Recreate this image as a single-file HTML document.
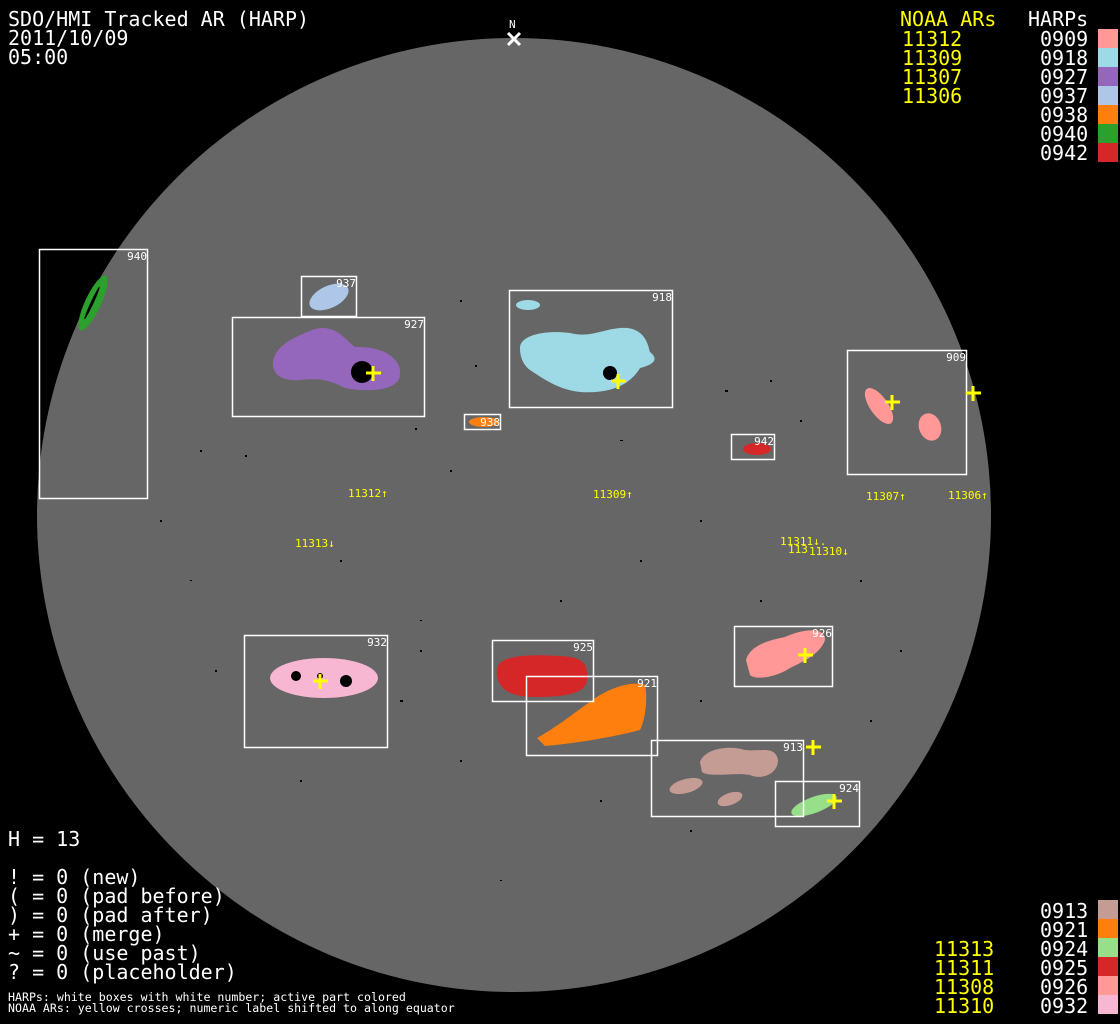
<!DOCTYPE html>
<html><head><meta charset="utf-8"><style>
html,body{margin:0;padding:0;background:#000;}
svg{display:block;}
text{font-family:"DejaVu Sans Mono","Liberation Mono",monospace;}
</style></head><body>
<svg width="1120" height="1024" viewBox="0 0 1120 1024" xmlns="http://www.w3.org/2000/svg">
<rect width="1120" height="1024" fill="#000"/>
<circle cx="514" cy="515" r="477" fill="#666"/>
<g fill="#000">
<rect x="415" y="428" width="2" height="2"/><rect x="190" y="580" width="2" height="1"/><rect x="450" y="470" width="2" height="2"/><rect x="620" y="440" width="3" height="1"/><rect x="700" y="520" width="2" height="2"/><rect x="560" y="600" width="2" height="2"/><rect x="420" y="620" width="2" height="1"/><rect x="215" y="670" width="2" height="2"/><rect x="400" y="700" width="3" height="2"/><rect x="460" y="760" width="2" height="2"/><rect x="600" y="800" width="2" height="2"/><rect x="690" y="830" width="2" height="2"/><rect x="500" y="880" width="2" height="1"/><rect x="300" y="780" width="2" height="2"/><rect x="640" y="560" width="2" height="2"/><rect x="760" y="600" width="2" height="2"/><rect x="860" y="580" width="2" height="2"/><rect x="900" y="650" width="2" height="2"/><rect x="200" y="450" width="2" height="2"/><rect x="160" y="520" width="2" height="2"/><rect x="770" y="380" width="2" height="2"/><rect x="800" y="420" width="2" height="2"/><rect x="725" y="390" width="3" height="2"/><rect x="460" y="300" width="2" height="2"/><rect x="475" y="365" width="2" height="2"/><rect x="245" y="455" width="2" height="2"/><rect x="340" y="560" width="2" height="2"/><rect x="420" y="650" width="2" height="2"/><rect x="700" y="700" width="2" height="2"/><rect x="870" y="720" width="2" height="2"/>
</g>
<!-- blobs -->
<ellipse cx="93" cy="303" rx="8" ry="30" transform="rotate(25 93 303)" fill="#2ca02c"/>
<ellipse cx="92" cy="303" rx="1.5" ry="18" transform="rotate(25 92 303)" fill="#000"/>
<ellipse cx="329" cy="297" rx="21" ry="11" transform="rotate(-25 329 297)" fill="#aec7e8"/>
<path d="M273,365 C272,345 300,335 312,330 C335,322 345,340 355,347 C385,346 402,360 400,375 C398,392 365,392 345,388 C330,380 320,378 300,380 C285,381 274,377 273,365Z" fill="#9467bd"/>
<circle cx="362" cy="372" r="11" fill="#000"/>
<ellipse cx="528" cy="305" rx="12" ry="5" fill="#9edae5"/>
<path d="M520,348 C520,335 545,330 570,333 C590,338 600,330 620,328 C645,326 648,345 650,352 C660,360 652,365 640,368 C630,385 610,394 580,392 C560,390 545,380 530,370 C522,364 520,355 520,348Z" fill="#9edae5"/>
<circle cx="610" cy="373" r="7" fill="#000"/>
<ellipse cx="484" cy="422" rx="15" ry="5" fill="#ff7f0e"/>
<ellipse cx="757" cy="449" rx="14" ry="6" fill="#d62728"/>
<ellipse cx="879" cy="406" rx="9" ry="21" transform="rotate(-35 879 406)" fill="#ff9896"/>
<ellipse cx="930" cy="427" rx="11" ry="14" transform="rotate(-20 930 427)" fill="#ff9896"/>
<ellipse cx="324" cy="678" rx="54" ry="20" fill="#f7b6d2"/>
<g fill="#000"><circle cx="296" cy="676" r="5"/><circle cx="346" cy="681" r="6"/><circle cx="320" cy="676" r="3"/></g>
<path d="M497,668 C500,655 530,654 560,656 C585,657 588,665 587,680 C586,695 560,697 535,697 C505,697 495,685 497,668Z" fill="#d62728"/>
<path d="M537,738 C560,725 575,712 590,702 C605,690 630,680 645,685 C648,700 645,720 640,730 C610,738 570,744 545,746Z" fill="#ff7f0e"/>
<path d="M746,660 C750,645 770,640 785,637 C800,630 825,625 825,640 C820,655 800,663 790,668 C775,678 755,680 750,675Z" fill="#ff9896"/>
<path d="M700,762 C705,748 730,745 745,750 C760,752 775,745 778,760 C778,775 760,780 750,775 C735,772 710,778 702,772Z" fill="#c49c94"/>
<ellipse cx="686" cy="786" rx="17" ry="7" transform="rotate(-15 686 786)" fill="#c49c94"/>
<ellipse cx="730" cy="799" rx="13" ry="6" transform="rotate(-20 730 799)" fill="#c49c94"/>
<ellipse cx="814" cy="805" rx="24" ry="8" transform="rotate(-20 814 805)" fill="#98df8a"/>
<g fill="none" stroke="#fff" stroke-width="1.5">
<rect x="39.5" y="249.5" width="108" height="249"/>
<rect x="301.5" y="276.5" width="55" height="40"/>
<rect x="232.5" y="317.5" width="192" height="99"/>
<rect x="509.5" y="290.5" width="163" height="117"/>
<rect x="464.5" y="414.5" width="36" height="15"/>
<rect x="731.5" y="434.5" width="43" height="25"/>
<rect x="847.5" y="350.5" width="119" height="124"/>
<rect x="244.5" y="635.5" width="143" height="112"/>
<rect x="492.5" y="640.5" width="101" height="61"/>
<rect x="526.5" y="676.5" width="131" height="79"/>
<rect x="734.5" y="626.5" width="98" height="60"/>
<rect x="651.5" y="740.5" width="152" height="76"/>
<rect x="775.5" y="781.5" width="84" height="45"/>
</g>
<g stroke="#ff0" stroke-width="3">
<path d="M366,373h15M373,366v15"/>
<path d="M611,381h15M618,374v15"/>
<path d="M885,402h15M892,395v15"/>
<path d="M966,393h15M973,386v15"/>
<path d="M313,681h15M320,674v15"/>
<path d="M798,655h15M805,648v15"/>
<path d="M806,747h15M813,740v15"/>
<path d="M827,801h15M834,794v15"/>
</g>
<path d="M508,33l12,12M520,33l-12,12" stroke="#fff" stroke-width="3"/>
<text x="509" y="28" font-size="11" fill="#fff">N</text>
<g font-size="11" fill="#fff" text-anchor="end">
<text x="147" y="260">940</text><text x="356" y="287">937</text><text x="424" y="328">927</text>
<text x="672" y="301">918</text><text x="500" y="426">938</text><text x="774" y="445">942</text>
<text x="966" y="361">909</text><text x="387" y="646">932</text><text x="593" y="651">925</text>
<text x="657" y="687">921</text><text x="832" y="637">926</text><text x="803" y="751">913</text>
<text x="859" y="792">924</text>
</g>
<g font-size="11" fill="#ff0">
<text x="348" y="497">11312↑</text><text x="593" y="498">11309↑</text><text x="866" y="500">11307↑</text>
<text x="948" y="499">11306↑</text><text x="295" y="547">11313↓</text><text x="780" y="545">11311↓.</text>
<text x="788" y="553">113</text><text x="809" y="555">11310↓</text>
</g>
<g font-size="20" fill="#fff">
<text x="8" y="26">SDO/HMI Tracked AR (HARP)</text>
<text x="8" y="45">2011/10/09</text>
<text x="8" y="64">05:00</text>
<text x="8" y="846">H = 13</text>
<text x="8" y="884">! = 0 (new)</text>
<text x="8" y="903">( = 0 (pad before)</text>
<text x="8" y="922">) = 0 (pad after)</text>
<text x="8" y="941">+ = 0 (merge)</text>
<text x="8" y="960">~ = 0 (use past)</text>
<text x="8" y="979">? = 0 (placeholder)</text>
</g>
<g font-size="11.6" fill="#fff">
<text x="8" y="1001">HARPs: white boxes with white number; active part colored</text>
<text x="8" y="1012">NOAA ARs: yellow crosses; numeric label shifted to along equator</text>
</g>
<g font-size="20">
<text x="900" y="26" fill="#ff0">NOAA ARs</text>
<text x="1028" y="26" fill="#fff">HARPs</text>
<g fill="#ff0"><text x="902" y="46">11312</text><text x="902" y="65">11309</text><text x="902" y="84">11307</text><text x="902" y="103">11306</text></g>
<g fill="#fff"><text x="1040" y="46">0909</text><text x="1040" y="65">0918</text><text x="1040" y="84">0927</text><text x="1040" y="103">0937</text><text x="1040" y="122">0938</text><text x="1040" y="141">0940</text><text x="1040" y="160">0942</text></g>
<g fill="#ff0"><text x="934" y="956">11313</text><text x="934" y="975">11311</text><text x="934" y="994">11308</text><text x="934" y="1013">11310</text></g>
<g fill="#fff"><text x="1040" y="918">0913</text><text x="1040" y="937">0921</text><text x="1040" y="956">0924</text><text x="1040" y="975">0925</text><text x="1040" y="994">0926</text><text x="1040" y="1013">0932</text></g>
</g>
<rect x="1098" y="29" width="20" height="19" fill="#ff9896"/>
<rect x="1098" y="48" width="20" height="19" fill="#9edae5"/>
<rect x="1098" y="67" width="20" height="19" fill="#9467bd"/>
<rect x="1098" y="86" width="20" height="19" fill="#aec7e8"/>
<rect x="1098" y="105" width="20" height="19" fill="#ff7f0e"/>
<rect x="1098" y="124" width="20" height="19" fill="#2ca02c"/>
<rect x="1098" y="143" width="20" height="19" fill="#d62728"/>
<rect x="1098" y="900" width="20" height="19" fill="#c49c94"/>
<rect x="1098" y="919" width="20" height="19" fill="#ff7f0e"/>
<rect x="1098" y="938" width="20" height="19" fill="#98df8a"/>
<rect x="1098" y="957" width="20" height="19" fill="#d62728"/>
<rect x="1098" y="976" width="20" height="19" fill="#ff9896"/>
<rect x="1098" y="995" width="20" height="19" fill="#f7b6d2"/>
</svg>
</body></html>
